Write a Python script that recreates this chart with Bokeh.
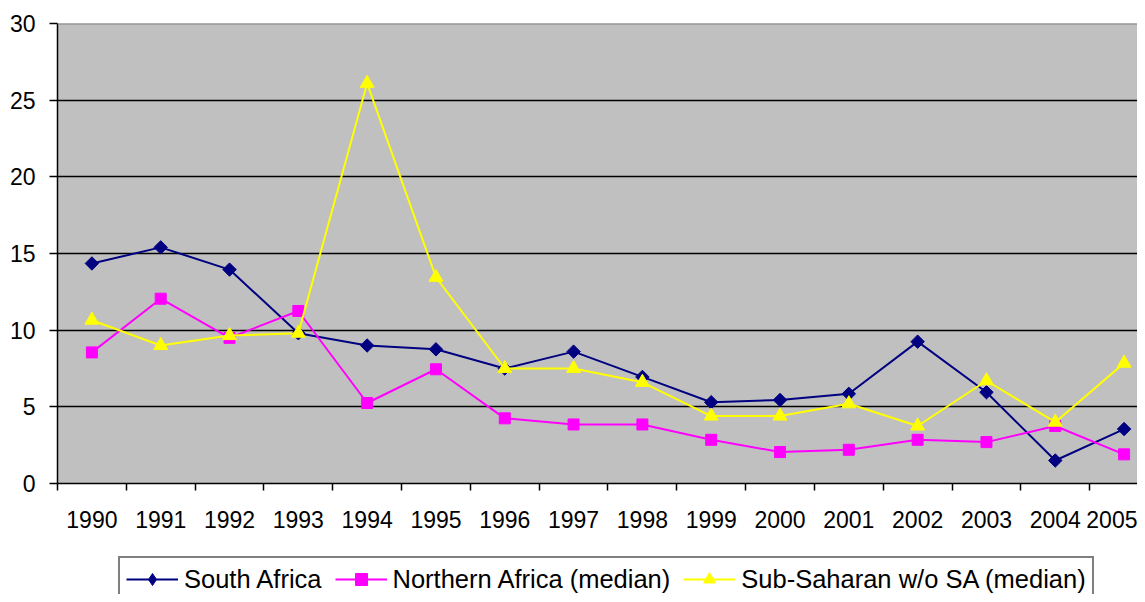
from bokeh.plotting import figure
from bokeh.layouts import column
from bokeh.models import Range1d, FixedTicker, Legend, LegendItem, Span, ColumnDataSource
from bokeh.embed import file_html
from bokeh.resources import INLINE
import math

years = [str(y) for y in range(1990, 2006)]
south_africa = [14.35, 15.4, 13.95, 9.8, 9.0, 8.75, 7.5, 8.6, 6.95, 5.3, 5.45, 5.85, 9.25, 5.95, 1.5, 3.55]
northern_africa = [8.55, 12.05, 9.5, 11.25, 5.25, 7.45, 4.25, 3.85, 3.85, 2.85, 2.05, 2.2, 2.85, 2.7, 3.75, 1.9]
sub_saharan = [10.65, 9.0, 9.65, 9.8, 26.1, 13.45, 7.5, 7.5, 6.6, 4.4, 4.4, 5.2, 3.75, 6.7, 4.0, 7.85]
y_ticks = [0, 5, 10, 15, 20, 25, 30]
series_names = ["South Africa", "Northern Africa (median)", "Sub-Saharan w/o SA (median)"]

FONT = "Liberation Sans"
NAVY, MAGENTA, YELLOW = "#000080", "#FF00FF", "#FFFF00"
xs = [i + 0.5 for i in range(len(years))]

W = 1137
H1 = 550
LEFT = 57
p = figure(width=W, height=H1, output_backend="svg", toolbar_location=None,
           x_range=Range1d(0, 15.695), y_range=Range1d(0, 30),
           min_border_left=LEFT, min_border_right=0, min_border_top=23,
           min_border_bottom=H1 - 483)
p.border_fill_color = "white"
p.background_fill_color = "#C0C0C0"
p.outline_line_color = None

# axes
p.xaxis.ticker = FixedTicker(ticks=xs, minor_ticks=list(range(len(years) + 1)))
p.xaxis.major_label_overrides = {x: y for x, y in zip(xs, years)}
p.xaxis.major_tick_out = 0
p.xaxis.major_tick_in = 0
p.xaxis.minor_tick_out = 7
p.xaxis.minor_tick_in = 0
p.xaxis.minor_tick_line_color = "black"
p.xaxis.minor_tick_line_width = 1.5
p.xaxis.major_label_standoff = 20
p.yaxis.ticker = FixedTicker(ticks=y_ticks)
p.yaxis.major_tick_out = 8
p.yaxis.major_tick_in = 0
p.yaxis.minor_tick_line_color = None
p.yaxis.major_label_standoff = 14
for ax in (p.xaxis, p.yaxis):
    ax.axis_line_color = "black"
    ax.axis_line_width = 1.5
    ax.major_tick_line_color = "black"
    ax.major_tick_line_width = 1.5
    ax.major_label_text_font = FONT
    ax.major_label_text_font_size = "23px"
    ax.major_label_text_color = "black"

p.xgrid.grid_line_color = None
p.ygrid.ticker = FixedTicker(ticks=[5, 10, 15, 20, 25])
p.ygrid.grid_line_color = "black"
p.ygrid.grid_line_width = 1.5

p.add_layout(Span(location=30, dimension="width", line_color="#808080", line_width=2))

src = ColumnDataSource(dict(x=xs, sa=south_africa, na=northern_africa, ss=sub_saharan))

p.line("x", "sa", source=src, line_color=NAVY, line_width=2)
p.scatter("x", "sa", source=src, marker="square", angle=math.pi / 4, size=9.5,
          fill_color=NAVY, line_color=NAVY)
p.line("x", "na", source=src, line_color=MAGENTA, line_width=2)
p.scatter("x", "na", source=src, marker="square", size=11,
          fill_color=MAGENTA, line_color=MAGENTA)
p.line("x", "ss", source=src, line_color=YELLOW, line_width=2)
p.scatter("x", "ss", source=src, marker="triangle", size=14,
          fill_color=YELLOW, line_color=YELLOW)

# legend strip (a second figure holding only the legend; its frame is aligned with the plot's)
H2 = 594 - H1
q = figure(width=W, height=H2, output_backend="svg", toolbar_location=None,
           x_range=Range1d(0, 1), y_range=Range1d(0, 1),
           x_axis_type=None, y_axis_type=None,
           min_border_left=LEFT, min_border_right=0, min_border_top=0, min_border_bottom=0)
q.outline_line_color = None
q.background_fill_color = "white"
q.border_fill_color = "white"
q.xgrid.visible = False
q.ygrid.visible = False

# legend-only glyph renderers (a single NaN point each, so nothing is drawn in the strip)
dummy = ColumnDataSource(dict(x=[float("nan")], y=[float("nan")]))
items = []
for name, col, mk, sz in zip(series_names, [NAVY, MAGENTA, YELLOW],
                             ["diamond", "square", "triangle"], [14, 9, 12]):
    r1 = q.line("x", "y", source=dummy, line_color=col, line_width=2)
    r2 = q.scatter("x", "y", source=dummy, marker=mk, size=sz, fill_color=col, line_color=col)
    items.append(LegendItem(label=name, renderers=[r1, r2]))

PAD, ITEM_H = 6, 30
leg_h = 2 * PAD + ITEM_H
leg_top = 560
legend = Legend(items=items, orientation="horizontal",
                location=(118 - LEFT, 594 - leg_h - leg_top))
legend.margin = 0
legend.padding = PAD
legend.spacing = 13
legend.label_standoff = 6
legend.glyph_width = 52
legend.glyph_height = ITEM_H
legend.label_height = ITEM_H
legend.label_text_font = FONT
legend.label_text_font_size = "25.5px"
legend.label_text_color = "black"
legend.border_line_color = "black"
legend.border_line_width = 2
legend.background_fill_color = "white"
legend.background_fill_alpha = 1
q.add_layout(legend, "center")

layout = column(p, q, spacing=0)
open("out.html", "w").write(file_html(layout, INLINE))
